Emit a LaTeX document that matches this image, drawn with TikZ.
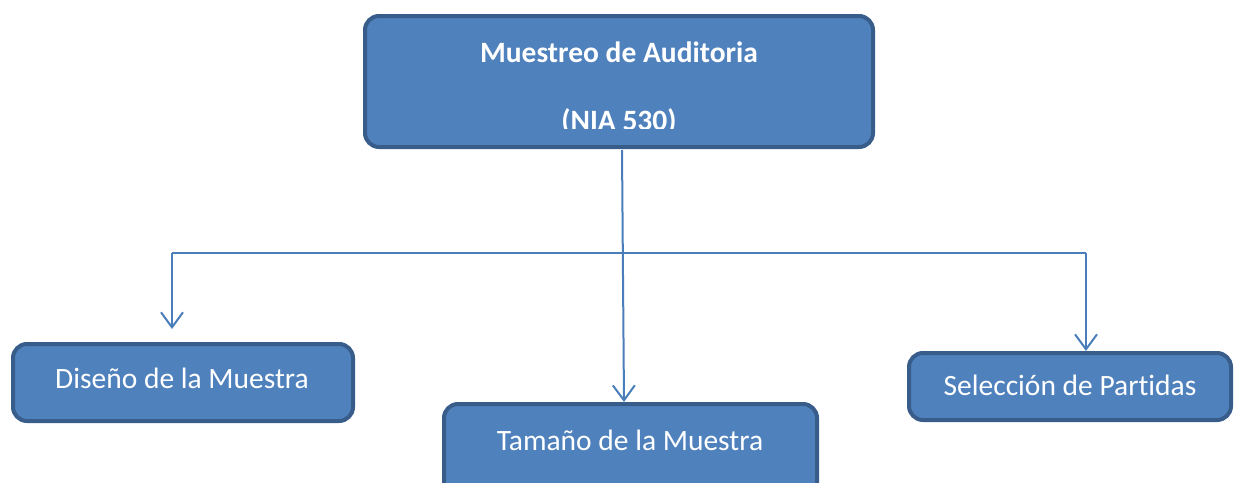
\documentclass[tikz,border=0pt]{standalone}
\usepackage{fontspec}
\setmainfont{Carlito}[Ligatures=NoCommon]
\usetikzlibrary{arrows.meta}
\definecolor{boxfill}{HTML}{4F81BD}
\definecolor{boxline}{HTML}{385D8A}
\definecolor{conn}{HTML}{4A7EBB}
\tikzset{
  box/.style={draw=boxline, line width=4pt, fill=boxfill, rounded corners=14pt, inner sep=0pt},
  lbl/.style={text=white, font=\fontsize{29.5}{34}\selectfont, inner sep=0pt, anchor=base},
  conn/.style={draw=conn, line width=2pt},
  arr/.style={conn, -{Straight Barb[length=15pt, width=22pt, line width=2pt]}}
}
\begin{document}
\begin{tikzpicture}[x=1pt, y=-1pt]
\useasboundingbox (0,0) rectangle (1237,482);
\clip (0,0) rectangle (1237,482);
% boxes
\node[box, minimum width=508pt, minimum height=131pt] (top) at (619,81.5) {};
\begin{scope}
  \clip (366,17) rectangle (872,128);
  \node[lbl, font=\fontsize{29.5}{34}\selectfont\bfseries] (t1) at (619,62) {Muestreo de Auditoria};
  \node[lbl, font=\fontsize{29.5}{34}\selectfont\bfseries] (t2) at (619,130) {(NIA 530)};
\end{scope}
\node[box, minimum width=340pt, minimum height=77pt] (left) at (183,382.5) {};
\node[lbl] (l1) at (182,388) {Diseño de la Muestra};
\node[box, minimum width=373pt, minimum height=100pt] (mid) at (630.5,454) {};
\node[lbl] (m1) at (630,450) {Tamaño de la Muestra};
\node[box, minimum width=322pt, minimum height=67pt] (right) at (1070,386.5) {};
\node[lbl] (r1) at (1070,395) {Selección de Partidas};
% connectors
\coordinate (s) at (622,150);
\coordinate (e) at (624,402);
\coordinate (hl) at (172,253);
\coordinate (hr) at (1086,253);
\coordinate (al) at (172,329);
\coordinate (ar) at (1086,351);
\draw[arr] (s) -- (e);
\draw[conn] (hl) -- (hr);
\draw[arr] (hl) -- (al);
\draw[arr] (hr) -- (ar);
\end{tikzpicture}
\end{document}
